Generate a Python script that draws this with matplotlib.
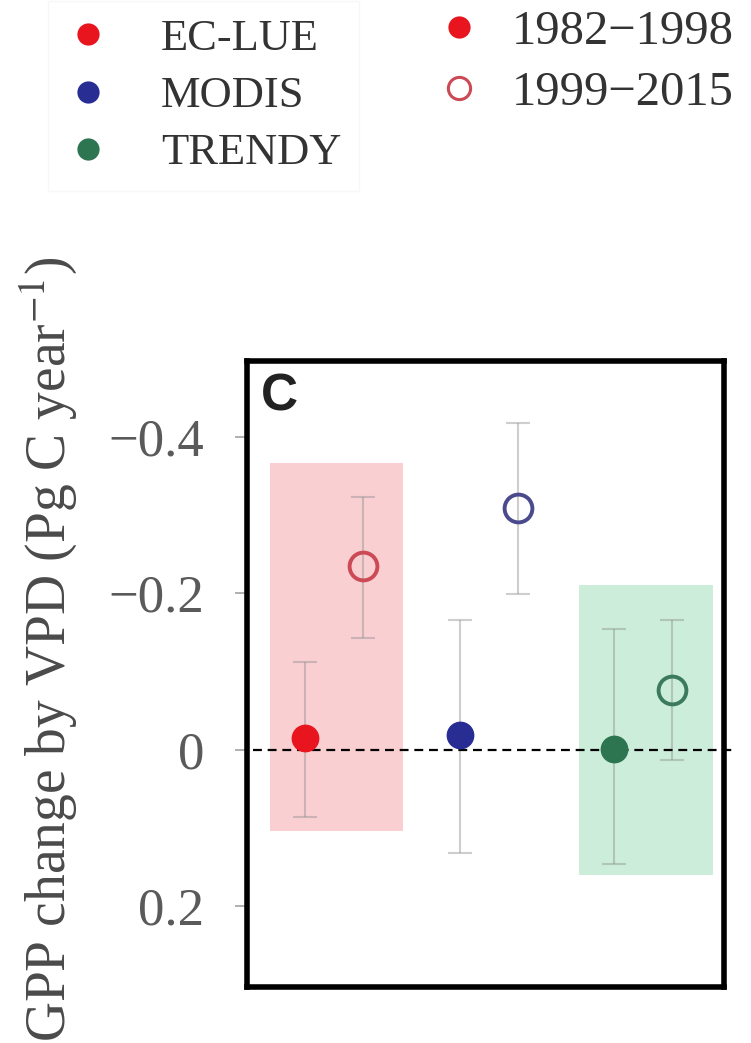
import matplotlib
matplotlib.use("Agg")
import matplotlib.pyplot as plt
from matplotlib.lines import Line2D
from matplotlib.patches import Rectangle
import numpy as np

# ---- data ----
products = ["EC-LUE", "MODIS", "TRENDY"]
periods = ["1982\u22121998", "1999\u22122015"]
# GPP change by VPD (Pg C / yr); axis is inverted
val_p1 = [-0.015, -0.019, -0.001]
val_p2 = [-0.235, -0.309, -0.077]
lo_p1 = [-0.112, -0.166, -0.155]   # upper (more negative) end of error bar
hi_p1 = [0.086, 0.132, 0.146]
lo_p2 = [-0.323, -0.418, -0.166]
hi_p2 = [-0.143, -0.199, 0.013]
# highlight boxes (product, y from, y to)
hl_products = ["EC-LUE", "TRENDY"]
hl_y0 = [-0.367, -0.211]
hl_y1 = [0.104, 0.160]
yticks = [-0.4, -0.2, 0.0, 0.2]
yticklabels = ["\u22120.4", "\u22120.2", "0", "0.2"]

# ---- style ----
fill_colors = ["#e8141e", "#272d92", "#2d7451"]
open_colors = ["#cc4a55", "#4b4a8c", "#3b7a5c"]
hl_colors = {"EC-LUE": "#f9cfd2", "TRENDY": "#ccedda"}
serif = ["Liberation Serif", "DejaVu Serif"]
plt.rcParams["mathtext.fontset"] = "stix"

W, H = 751, 1043
fig = plt.figure(figsize=(W / 100, H / 100), dpi=100)
ax = fig.add_axes([247 / W, 1 - 987 / H, (724 - 247) / W, (987 - 361) / H])

x = np.arange(len(products))
off = 0.187

for name, y0, y1 in zip(hl_products, hl_y0, hl_y1):
    i = products.index(name)
    ax.add_patch(Rectangle((i - 0.413, y0), 0.86, y1 - y0,
                           facecolor=hl_colors[name], edgecolor="none", zorder=0))

err_kw = dict(ecolor="#8c8c8c", elinewidth=1.5, capsize=8.5, capthick=1.5)
for i in range(len(products)):
    for xx, v, lo, hi in [(x[i] - off, val_p1[i], lo_p1[i], hi_p1[i]),
                          (x[i] + off, val_p2[i], lo_p2[i], hi_p2[i])]:
        eb = ax.errorbar(xx, v, yerr=[[v - lo], [hi - v]], fmt="none", zorder=2, **err_kw)
        for c in eb.get_children():
            c.set_alpha(0.42)
    ax.plot(x[i] - off, val_p1[i], "o", ms=20, color=fill_colors[i], mec="none", zorder=4)
    ax.plot(x[i] + off, val_p2[i], "o", ms=20, mfc="none", mec=open_colors[i], mew=2.8, zorder=4)

ax.axhline(0, xmin=0.013, xmax=1.025, color="black", lw=1.6,
           linestyle=(0, (4, 2.6)), zorder=3, clip_on=False)

ax.set_xlim(-0.5616, 2.521)
ax.set_ylim(0.303, -0.497)
ax.set_xticks([])
ax.set_yticks(yticks)
ax.set_yticklabels(yticklabels, fontfamily=serif, fontsize=38, color="#5a5a5a")
ax.tick_params(axis="y", length=9, width=1.3, color="#aaaaaa", pad=22)
for s in ax.spines.values():
    s.set_linewidth(4)
    s.set_color("black")

ax.text(0.03, 0.982, "C", transform=ax.transAxes, fontsize=37, fontweight="bold",
        family=["Liberation Sans", "DejaVu Sans"], color="#222222", ha="left", va="top")

fig.text(48 / W, 1 - 649 / H, "GPP change by VPD (Pg C year$^{-1}$)", rotation=90,
         ha="center", va="center", fontsize=40, family=serif, color="#4a4a4a")

# legends
h1 = [Line2D([], [], marker="o", ls="none", ms=16, color=c, mec="none") for c in fill_colors]
leg1 = fig.legend(h1, products, loc="upper left", bbox_to_anchor=(48 / W, 1 - 1 / H),
                  frameon=True, fancybox=False, edgecolor="#f6f6f6", facecolor="white",
                  prop={"family": serif, "size": 32}, labelcolor="#333333",
                  handlelength=1.0, handletextpad=1.14, labelspacing=0.385,
                  borderpad=0.4, borderaxespad=0)
leg1.get_frame().set_linewidth(1.0)
h2 = [Line2D([], [], marker="o", ls="none", ms=16, color=fill_colors[0], mec="none"),
      Line2D([], [], marker="o", ls="none", ms=16, mfc="none", mec=open_colors[0], mew=2.2)]
leg2 = fig.legend(h2, periods, loc="upper left", bbox_to_anchor=(415 / W, 1 + 9 / H),
                  frameon=False, prop={"family": serif, "size": 35}, labelcolor="#333333",
                  handlelength=1.0, handletextpad=0.6, labelspacing=0.34,
                  borderpad=0.4, borderaxespad=0)

fig.savefig("out.png", dpi=100)
